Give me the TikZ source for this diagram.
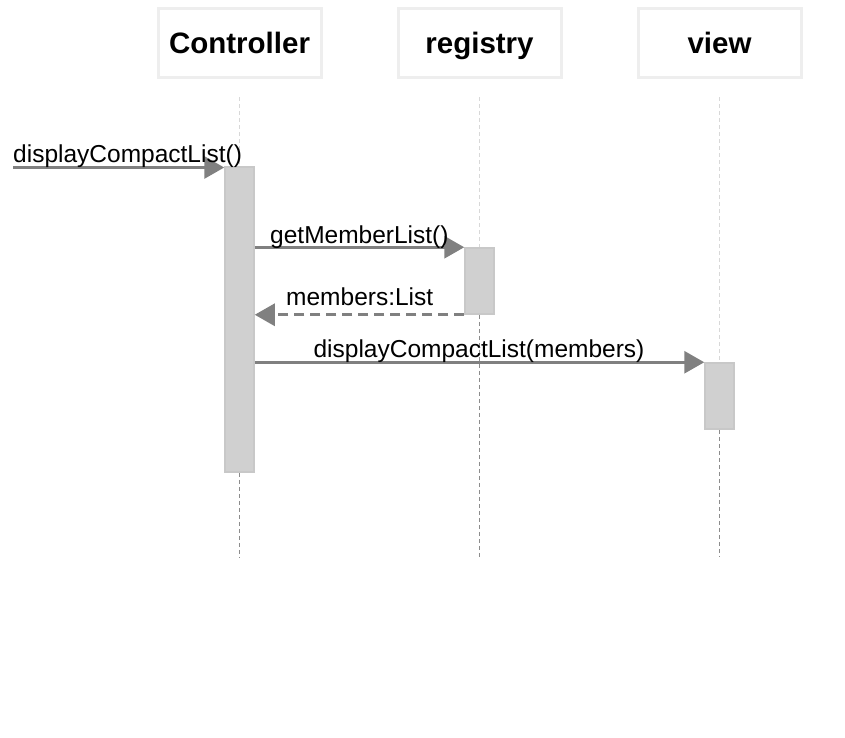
\documentclass[tikz,border=0pt]{standalone}
\usepackage{fontspec}
\setmainfont{Liberation Sans}
\usetikzlibrary{arrows.meta}
\definecolor{hdrline}{HTML}{EEEEEE}
\definecolor{actfill}{HTML}{D0D0D0}
\definecolor{actline}{HTML}{C8C8C8}
\definecolor{msgcol}{HTML}{808080}
\definecolor{lifelight}{HTML}{D8D8D8}
\definecolor{lifedark}{HTML}{8C8C8C}
\tikzset{
  header/.style={draw=hdrline, line width=3pt, fill=white, minimum width=163pt, minimum height=69pt,
    text height=22pt, text depth=1pt,
    font=\fontsize{29.5}{34}\selectfont\bfseries, text=black},
  actbox/.style={draw=actline, fill=actfill, line width=1.5pt, minimum width=29pt, inner sep=0pt},
  lifeA/.style={draw=lifelight, line width=1pt, dash pattern=on 4pt off 3pt},
  lifeB/.style={draw=lifedark, line width=1pt, dash pattern=on 4pt off 3pt},
  msg/.style={draw=msgcol, line width=3pt, -{Triangle[length=20pt, width=22pt, fill=msgcol]}},
  ret/.style={msg, dash pattern=on 10pt off 6pt},
  lbl/.style={inner sep=0pt, font=\fontsize{24.5}{28}\selectfont, text=black}
}
\begin{document}
\begin{tikzpicture}[x=1pt, y=-1pt]
\useasboundingbox (0,0) rectangle (845,737);
% headers
\node[header] (hC) at (239.5,42.5) {Controller};
\node[header] (hR) at (479.5,42.5) {registry};
\node[header] (hV) at (719.5,42.5) {view};
% lifeline ends
\coordinate (tC) at (239.5,97);
\coordinate (tR) at (479.5,97);
\coordinate (tV) at (719.5,97);
\coordinate (eC) at (239.5,557);
\coordinate (eR) at (479.5,557);
\coordinate (eV) at (719.5,557);
% activations
\node[actbox, minimum height=305pt] (aC) at (239.5,319.5) {};
\node[actbox, minimum height=66pt] (aR) at (479.5,281) {};
\node[actbox, minimum height=66pt] (aV) at (719.5,396) {};
% lifelines
\draw[lifeA] (tC) -- (aC.north);
\draw[lifeB] (aC.south) -- (eC);
\draw[lifeA] (tR) -- (aR.north);
\draw[lifeB] (aR.south) -- (eR);
\draw[lifeA] (tV) -- (aV.north);
\draw[lifeB] (aV.south) -- (eV);
% messages
\coordinate (m1s) at (13,167.5);
\draw[msg] (m1s) -- (m1s -| aC.west);
\node[lbl, anchor=base west] (l1) at (13,162) {displayCompactList()};
\draw[msg] (aC.east |- aR.north) -- (aR.north west);
\node[lbl, anchor=base west] (l2) at (270,243) {getMemberList()};
\draw[ret] (aR.south west) -- (aC.east |- aR.south);
\node[lbl, anchor=base west] (l3) at (286,305) {members:List};
\draw[msg] (aC.east |- aV.north) -- (aV.north west);
\node[lbl, anchor=base] (l4) at (479,357) {displayCompactList(members)};
\end{tikzpicture}
\end{document}
